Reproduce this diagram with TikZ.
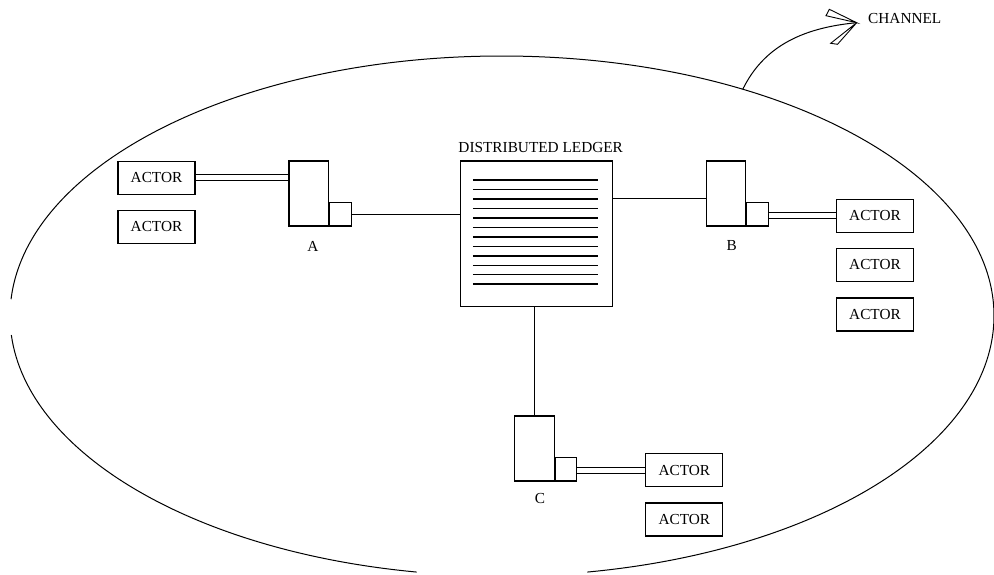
\documentclass[tikz,border=0pt]{standalone}
\usepackage{fontspec}
\setmainfont{Liberation Serif}
\usetikzlibrary{calc}
\begin{document}
\begin{tikzpicture}[x=1pt,y=-1pt,
  every node/.style={font=\fontsize{15.3}{18}\selectfont},
  box/.style={draw,line width=1.1pt,inner sep=0pt},
  actor/.style={box,minimum width=77pt,minimum height=33pt},
  peer/.style={box,minimum width=39.5pt,minimum height=65pt},
  port/.style={box,minimum width=21.5pt,minimum height=23.5pt,anchor=south west},
  link/.style={line width=1.1pt},
  dbl/.style={line width=1pt,double=white,double distance=5pt},
  ledgerline/.style={line width=1.5pt}]
\useasboundingbox (0,0) rectangle (994,575);

% channel boundary (open on the left and at the bottom)
\draw[line width=1pt] (502,316) ++(183.7:492 and 260) arc[start angle=183.7,end angle=440,x radius=492,y radius=260];
\draw[line width=1pt] (502,316) ++(100:492 and 260) arc[start angle=100,end angle=175.8,x radius=492,y radius=260];

% ledger
\node[box,minimum width=152.3pt,minimum height=145.7pt] (ledger) at (536.2,233.9) {};
\foreach \i in {0,...,11}
  \draw[ledgerline] ($(ledger.north west)+(13.3,19.7+9.45*\i)$) -- ++(125,0);
\node (ledgertitle) at (540.7,147.3) {DISTRIBUTED LEDGER};

% peer A
\node[peer] (pa) at (308.7,193.5) {};
\node[port] (pa2) at (pa.south east) {};
\node (la) at (313,246.7) {A};
\node[actor] (a1) at (156.5,178) {ACTOR};
\node[actor] (a2) at (156.5,227) {ACTOR};

% peer B
\node[peer] (pb) at (725.8,193.5) {};
\node[port] (pb2) at (pb.south east) {};
\node (lb) at (731.7,246) {B};
\node[actor] (b1) at (875,215.8) {ACTOR};
\node[actor] (b2) at (875,265) {ACTOR};
\node[actor] (b3) at (875,314.5) {ACTOR};

% peer C
\node[peer] (pc) at (534.3,448.5) {};
\node[port] (pc2) at (pc.south east) {};
\node (lc) at (540,499) {C};
\node[actor] (c1) at (684.3,470.3) {ACTOR};
\node[actor] (c2) at (684.3,519.5) {ACTOR};

% peer to ledger links
\draw[link] (pa2.east) -- (pa2.east -| ledger.west);
\coordinate (bjoin) at (706.7,198.3);
\draw[link] (bjoin -| ledger.east) -- (bjoin);
\draw[link] (pc.north |- ledger.south) -- (pc.north);

% actor to peer links
\draw[dbl] (a1.east) -- (a1.east -| pa.west);
\draw[dbl] (b1.west -| pb2.east) -- (b1.west);
\draw[dbl] (c1.west -| pc2.east) -- (c1.west);

% channel callout
\coordinate (cstart) at ($(502,316)+(299.3:492 and 260)$);
\coordinate (ctip) at (856.7,22.7);
\draw[line width=1pt] (cstart) .. controls (763,48) and (800,28) .. (ctip);
\draw[line width=0.9pt,fill=white] (ctip) -- (826,15.7) -- (829.3,9.3) -- cycle;
\draw[line width=0.9pt,fill=white] (ctip) -- (830.7,43.3) -- (837.5,44.3) -- cycle;
\node[anchor=west,inner sep=0pt] (channel) at (868,19) {CHANNEL};
\end{tikzpicture}
\end{document}
